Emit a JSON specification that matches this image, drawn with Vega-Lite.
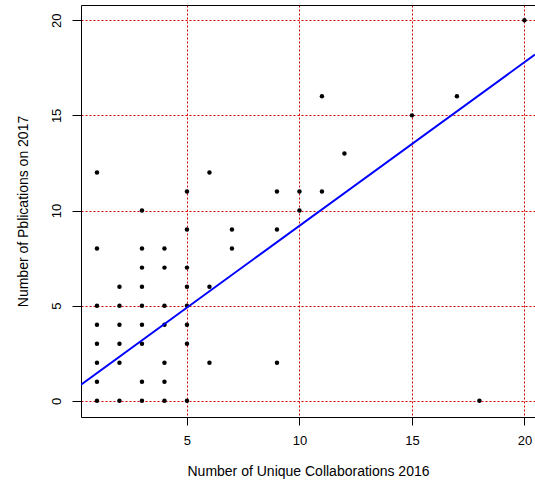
{
  "$schema": "https://vega.github.io/schema/vega-lite/v6.json",
  "width": 454,
  "height": 412,
  "autosize": {"type": "none"},
  "padding": {"left": 81, "top": 5, "right": 0, "bottom": 72},
  "background": "white",
  "config": {
    "view": {"stroke": null},
    "axis": {
      "labelFont": "Liberation Sans",
      "titleFont": "Liberation Sans",
      "labelFontSize": 13,
      "titleFontSize": 14,
      "labelColor": "#000000",
      "titleColor": "#000000",
      "titleFontWeight": "normal",
      "domainColor": "#000000",
      "domainWidth": 1,
      "tickColor": "#000000",
      "tickWidth": 1,
      "gridColor": "#cc0000",
      "gridDash": [2, 2],
      "gridOpacity": 1,
      "gridWidth": 1
    }
  },
  "datasets": {
    "pts": [
      {"collab": 1, "pubs": 12}, {"collab": 1, "pubs": 8}, {"collab": 1, "pubs": 5}, {"collab": 1, "pubs": 4},
      {"collab": 1, "pubs": 3}, {"collab": 1, "pubs": 2}, {"collab": 1, "pubs": 1}, {"collab": 1, "pubs": 0},
      {"collab": 2, "pubs": 6}, {"collab": 2, "pubs": 5}, {"collab": 2, "pubs": 4}, {"collab": 2, "pubs": 3},
      {"collab": 2, "pubs": 2}, {"collab": 2, "pubs": 0},
      {"collab": 3, "pubs": 10}, {"collab": 3, "pubs": 8}, {"collab": 3, "pubs": 7}, {"collab": 3, "pubs": 6},
      {"collab": 3, "pubs": 5}, {"collab": 3, "pubs": 4}, {"collab": 3, "pubs": 3}, {"collab": 3, "pubs": 1},
      {"collab": 3, "pubs": 0},
      {"collab": 4, "pubs": 8}, {"collab": 4, "pubs": 7}, {"collab": 4, "pubs": 5}, {"collab": 4, "pubs": 4},
      {"collab": 4, "pubs": 2}, {"collab": 4, "pubs": 1}, {"collab": 4, "pubs": 0},
      {"collab": 5, "pubs": 11}, {"collab": 5, "pubs": 9}, {"collab": 5, "pubs": 7}, {"collab": 5, "pubs": 6},
      {"collab": 5, "pubs": 5}, {"collab": 5, "pubs": 4}, {"collab": 5, "pubs": 3}, {"collab": 5, "pubs": 0},
      {"collab": 6, "pubs": 12}, {"collab": 6, "pubs": 6}, {"collab": 6, "pubs": 2},
      {"collab": 7, "pubs": 9}, {"collab": 7, "pubs": 8},
      {"collab": 9, "pubs": 11}, {"collab": 9, "pubs": 9}, {"collab": 9, "pubs": 2},
      {"collab": 10, "pubs": 11}, {"collab": 10, "pubs": 10},
      {"collab": 11, "pubs": 16}, {"collab": 11, "pubs": 11},
      {"collab": 12, "pubs": 13},
      {"collab": 15, "pubs": 15},
      {"collab": 17, "pubs": 16},
      {"collab": 18, "pubs": 0},
      {"collab": 20, "pubs": 20}
    ],
    "fit": [
      {"collab": 0.29, "pubs": 0.85},
      {"collab": 20.47, "pubs": 18.2}
    ]
  },
  "layer": [
    {
      "data": {"name": "pts"},
      "mark": {"type": "point", "filled": true, "color": "#000000", "size": 20, "opacity": 1, "clip": true},
      "encoding": {
        "x": {
          "field": "collab",
          "type": "quantitative",
          "scale": {"domain": [0.29, 20.47], "nice": false, "zero": false},
          "axis": {
            "orient": "bottom",
            "values": [5, 10, 15, 20],
            "title": "Number of Unique Collaborations 2016",
            "grid": true,
            "tickSize": 8,
            "labelPadding": 9,
            "titlePadding": 17
          }
        },
        "y": {
          "field": "pubs",
          "type": "quantitative",
          "scale": {"domain": [-0.85, 20.8], "nice": false, "zero": false},
          "axis": {
            "values": [0, 5, 10, 15, 20],
            "title": "Number of Pblications on 2017",
            "grid": true,
            "labelAngle": -90,
            "labelAlign": "center",
            "labelBaseline": "bottom",
            "tickSize": 9,
            "labelPadding": 9,
            "titlePadding": 20
          }
        }
      }
    },
    {
      "data": {"name": "fit"},
      "mark": {"type": "line", "color": "#0000ff", "strokeWidth": 2, "clip": true},
      "encoding": {
        "x": {
          "field": "collab",
          "type": "quantitative",
          "axis": {"orient": "top", "labels": false, "ticks": false, "grid": false, "title": null, "domain": true}
        },
        "y": {"field": "pubs", "type": "quantitative"}
      }
    }
  ],
  "resolve": {"axis": {"x": "independent"}}
}
